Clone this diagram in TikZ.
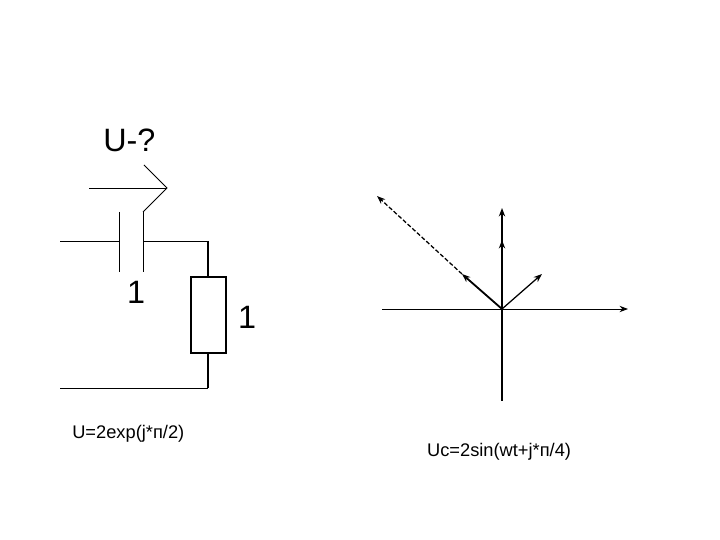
\documentclass[tikz,border=0pt]{standalone}
\usepackage{fontspec}
\setmainfont{Liberation Sans}
\usetikzlibrary{arrows.meta}
\tikzset{
  wire/.style={line width=.7pt},
  vec/.style={line width=.7pt,-{Stealth[length=6pt,width=4.5pt]}},
  big/.style={font=\fontsize{23}{27}\selectfont,inner sep=0pt},
  small/.style={font=\fontsize{13}{16}\selectfont,inner sep=0pt},
}
\begin{document}
\begin{tikzpicture}
\useasboundingbox (0,0) rectangle (18,13.5);

% circuit
\coordinate (a1) at (1.5,7.475);
\coordinate (a2) at (5.2,7.475);
\coordinate (b1) at (1.5,3.8);
\coordinate (b2) at (5.2,3.8);
\coordinate (cl1) at (2.975,8.2);
\coordinate (cl2) at (2.975,6.7);
\coordinate (cr1) at (3.575,8.2);
\coordinate (cr2) at (3.575,6.7);
\coordinate (cl) at (2.975,7.475);
\coordinate (cr) at (3.575,7.475);
\node [draw,line width=.9pt,minimum width=.875cm,minimum height=1.9cm,inner sep=0pt] (res) at (5.2125,5.625) {};

\draw [wire] (a1) -- (cl);
\draw [wire] (cr) -- (a2);
\draw [line width=.9pt] (a2) -- (a2 |- res.north);
\draw [line width=.9pt] (b2 |- res.south) -- (b2);
\draw [wire] (b2) -- (b1);
\draw [wire] (cl1) -- (cl2);
\draw [wire] (cr1) -- (cr2);

% arrow above the capacitor
\coordinate (u1) at (2.225,8.8);
\coordinate (u2) at (4.175,8.8);
\coordinate (u3) at (3.6,9.375);
\draw [wire] (u1) -- (u2);
\draw [wire] (u3) -- (u2) -- (cr1);

\node [big,anchor=base west] (uq) at (2.575,9.7) {U-?};
\node [big] (c1) at (3.4,6.2) {1};
\node [big] (r1) at (6.18,5.57) {1};
\node [small,anchor=base west] (ueq) at (1.8,2.55) {U=2exp(j*п/2)};

% vectors
\coordinate (o) at (12.55,5.775);
\coordinate (xl) at (9.55,5.775);
\coordinate (xr) at (15.7,5.775);
\coordinate (yb) at (12.55,3.475);
\coordinate (yt) at (12.55,8.3);
\coordinate (ym) at (12.55,7.5);
\coordinate (vr) at (13.55,6.65);
\coordinate (vl) at (11.55,6.65);
\coordinate (vd) at (9.425,8.6);

\draw [vec] (xl) -- (xr);
\draw [vec,line width=1pt] (yb) -- (yt);
\draw [vec,line width=1pt] (o) -- (ym);
\draw [vec,line width=.9pt] (o) -- (vr);
\draw [vec,line width=1.3pt] (o) -- (vl);
\draw [vec,line width=.9pt,dash pattern=on 3pt off 1.5pt] (vl) -- (vd);

\node [small,anchor=base west] (uceq) at (10.67,2.075) {Uc=2sin(wt+j*п/4)};

\end{tikzpicture}
\end{document}
